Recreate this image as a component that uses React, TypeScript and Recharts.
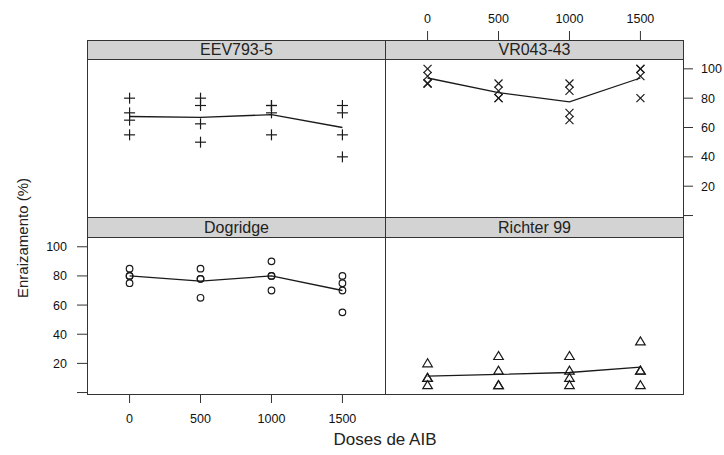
import React from "react";
import { ScatterChart, Scatter, XAxis, YAxis } from "recharts";

const doses = [0, 500, 1000, 1500];
const doseTicks = [0, 500, 1000, 1500];
const rootingTicks = [0, 20, 40, 60, 80, 100];

// rooting (%) read per dose, one inner list per dose (0, 500, 1000, 1500)
const eev793 = [
  [80, 70, 65, 55],
  [80, 75, 62.5, 50],
  [75, 75, 70, 55],
  [75, 70, 55, 40],
];
const vr04343 = [
  [100, 95, 90, 90],
  [90, 85, 80, 80],
  [90, 85, 70, 65],
  [100, 100, 95, 80],
];
const dogridge = [
  [85, 80, 80, 75],
  [85, 78, 78, 65],
  [90, 80, 80, 70],
  [80, 75, 70, 55],
];
const richter99 = [
  [20, 10, 10, 5],
  [25, 15, 5, 5],
  [25, 15, 10, 5],
  [35, 15, 15, 5],
];

const W = 724;
const H = 455;
const FONT = "'Liberation Sans', Arial, sans-serif";
const INK = "#1a1a1a";
const FRAME = "#333";

type Rect = { x0: number; x1: number; y0: number; y1: number };
type AxisMode = "labels" | "ticks" | null;
type MarkerKind = "plus" | "cross" | "circle" | "triangle";

const Marker = ({ cx, cy, kind }: { cx: number; cy: number; kind: MarkerKind }) => {
  const s = { stroke: INK, strokeWidth: 1.2, fill: "none" };
  if (kind === "plus") {
    return (
      <g {...s}>
        <line x1={cx - 5.5} y1={cy} x2={cx + 5.5} y2={cy} />
        <line x1={cx} y1={cy - 5.5} x2={cx} y2={cy + 5.5} />
      </g>
    );
  }
  if (kind === "cross") {
    return (
      <g {...s}>
        <line x1={cx - 4} y1={cy - 4} x2={cx + 4} y2={cy + 4} />
        <line x1={cx - 4} y1={cy + 4} x2={cx + 4} y2={cy - 4} />
      </g>
    );
  }
  if (kind === "circle") return <circle cx={cx} cy={cy} r={3.3} {...s} />;
  return <polygon points={`${cx},${cy - 4.6} ${cx - 4.8},${cy + 3.4} ${cx + 4.8},${cy + 3.4}`} {...s} />;
};

const tickStyle = { fill: "#111", fontSize: 12.5, fontFamily: FONT };

const Panel = ({
  values,
  kind,
  r,
  left,
  right,
  top,
  bottom,
}: {
  values: number[][];
  kind: MarkerKind;
  r: Rect;
  left: AxisMode;
  right: AxisMode;
  top: AxisMode;
  bottom: AxisMode;
}) => {
  const points = values.flatMap((vals, i) => vals.map((v) => ({ x: doses[i], y: v })));
  const means = values.map((vals, i) => ({
    x: doses[i],
    y: vals.reduce((a, b) => a + b, 0) / vals.length,
  }));
  const yW = 40;
  const xH = 40;
  const margin = {
    left: r.x0 - (left ? yW : 0),
    right: W - r.x1 - (right ? yW : 0),
    top: r.y0 - (top ? xH : 0),
    bottom: H - r.y1 - (bottom ? xH : 0),
  };
  return (
    <div style={{ position: "absolute", left: 0, top: 0 }}>
      <ScatterChart width={W} height={H} margin={margin}>
        {top ? (
          <XAxis
            xAxisId={0}
            type="number"
            dataKey="x"
            orientation="top"
            height={xH}
            domain={[-300, 1800]}
            ticks={doseTicks}
            interval={0}
            axisLine={false}
            tickSize={28}
            tickMargin={8}
            tickLine={{ stroke: FRAME }}
            tick={top === "labels" ? tickStyle : false}
          />
        ) : (
          <XAxis
            xAxisId={0}
            type="number"
            dataKey="x"
            orientation="bottom"
            height={bottom ? xH : 0}
            domain={[-300, 1800]}
            ticks={doseTicks}
            interval={0}
            axisLine={false}
            tickSize={9}
            tickMargin={11}
            tickLine={bottom ? { stroke: FRAME } : false}
            tick={bottom === "labels" ? tickStyle : false}
            hide={!bottom}
          />
        )}
        <YAxis
          yAxisId={0}
          type="number"
          dataKey="y"
          orientation={left ? "left" : "right"}
          width={left || right ? yW : 0}
          domain={[-1, 106.7]}
          ticks={rootingTicks}
          interval={0}
          axisLine={false}
          tickSize={10}
          tickMargin={left ? 10 : 8}
          tickLine={{ stroke: FRAME }}
          tickFormatter={(v: number) => (v === 0 ? "" : String(v))}
          tick={(left || right) === "labels" ? tickStyle : false}
          hide={!left && !right}
        />
        <Scatter
          data={points}
          isAnimationActive={false}
          shape={(p: any) => <Marker cx={p.cx} cy={p.cy} kind={kind} />}
        />
        <Scatter
          data={means}
          isAnimationActive={false}
          line={{ stroke: INK, strokeWidth: 1.3 }}
          shape={() => <g />}
        />
      </ScatterChart>
    </div>
  );
};

const boxStyle = (x0: number, y0: number, x1: number, y1: number, fill?: string): React.CSSProperties => ({
  position: "absolute",
  left: x0,
  top: y0,
  width: x1 - x0 + 1,
  height: y1 - y0 + 1,
  boxSizing: "border-box",
  border: `1px solid ${FRAME}`,
  background: fill ?? "transparent",
  display: "flex",
  alignItems: "center",
  justifyContent: "center",
  fontFamily: FONT,
  fontSize: 16,
  color: "#222",
  lineHeight: 1,
});

const LEFT = 87;
const MID = 385;
const RIGHT = 683;
const STRIP1 = 40;
const PANEL1 = 59;
const STRIP2 = 217;
const PANEL2 = 237;
const BOTTOM = 394;
const STRIP_FILL = "#d3d3d3";

export default function App() {
  return (
    <div style={{ position: "absolute", left: 0, top: 0, width: W, height: H, background: "#fff", overflow: "hidden" }}>
      <Panel values={eev793} kind="plus" r={{ x0: LEFT, x1: MID, y0: PANEL1, y1: STRIP2 }} left="ticks" right={null} top="ticks" bottom={null} />
      <Panel values={vr04343} kind="cross" r={{ x0: MID, x1: RIGHT, y0: PANEL1, y1: STRIP2 }} left={null} right="labels" top="labels" bottom={null} />
      <Panel values={dogridge} kind="circle" r={{ x0: LEFT, x1: MID, y0: PANEL2, y1: BOTTOM }} left="labels" right={null} top={null} bottom="labels" />
      <Panel values={richter99} kind="triangle" r={{ x0: MID, x1: RIGHT, y0: PANEL2, y1: BOTTOM }} left={null} right="ticks" top={null} bottom="ticks" />

      <div style={boxStyle(LEFT, STRIP1, MID, PANEL1, STRIP_FILL)}>EEV793-5</div>
      <div style={boxStyle(MID, STRIP1, RIGHT, PANEL1, STRIP_FILL)}>VR043-43</div>
      <div style={boxStyle(LEFT, PANEL1, MID, STRIP2)} />
      <div style={boxStyle(MID, PANEL1, RIGHT, STRIP2)} />
      <div style={boxStyle(LEFT, STRIP2, MID, PANEL2, STRIP_FILL)}>Dogridge</div>
      <div style={boxStyle(MID, STRIP2, RIGHT, PANEL2, STRIP_FILL)}>Richter 99</div>
      <div style={boxStyle(LEFT, PANEL2, MID, BOTTOM)} />
      <div style={boxStyle(MID, PANEL2, RIGHT, BOTTOM)} />

      <div
        style={{
          position: "absolute",
          left: 22,
          top: 238,
          transform: "translate(-50%, -50%) rotate(-90deg)",
          whiteSpace: "nowrap",
          fontFamily: FONT,
          fontSize: 15,
          color: "#222",
        }}
      >
        Enraizamento (%)
      </div>
      <div
        style={{
          position: "absolute",
          left: 385,
          top: 440,
          transform: "translate(-50%, -50%)",
          whiteSpace: "nowrap",
          fontFamily: FONT,
          fontSize: 17,
          color: "#222",
        }}
      >
        Doses de AIB
      </div>
    </div>
  );
}
